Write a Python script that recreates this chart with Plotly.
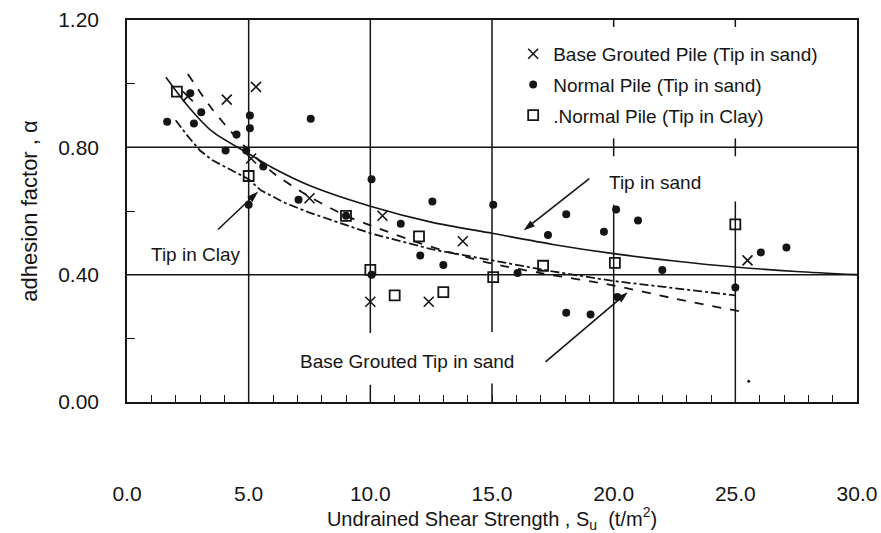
import plotly.graph_objects as go

# Measured points: adhesion factor vs undrained shear strength
grouted_sand_x = [2.5, 4.1, 5.3, 5.1, 7.5, 10.5, 13.8, 10.0, 12.4, 25.5]
grouted_sand_y = [0.96, 0.95, 0.99, 0.765, 0.64, 0.585, 0.505, 0.315, 0.315, 0.445]

normal_sand_x = [1.65, 2.6, 2.75, 3.05, 4.05, 4.5, 4.9, 5.05, 5.05, 5.6, 5.0,
                 7.55, 7.05, 9.0, 10.05, 11.25, 12.55, 12.05, 13.0, 10.05,
                 15.05, 16.05, 18.05, 17.3, 19.6, 20.1, 21.0, 22.0, 18.05,
                 19.05, 20.15, 26.05, 27.1, 25.0, 25.55]
normal_sand_y = [0.88, 0.97, 0.875, 0.91, 0.79, 0.84, 0.79, 0.90, 0.86, 0.74, 0.62,
                 0.89, 0.635, 0.585, 0.70, 0.56, 0.63, 0.46, 0.43, 0.40,
                 0.62, 0.405, 0.59, 0.525, 0.535, 0.605, 0.57, 0.415, 0.28,
                 0.275, 0.33, 0.47, 0.485, 0.36, 0.065]

normal_clay_x = [2.05, 5.0, 9.0, 10.0, 11.0, 12.0, 13.0, 15.05, 17.1, 20.05, 25.0]
normal_clay_y = [0.975, 0.71, 0.585, 0.415, 0.335, 0.52, 0.345, 0.392, 0.428, 0.437, 0.558]

# Trend curves
sand_curve_x = [1.6, 2.5, 3.5, 5.0, 6.0, 7.5, 10.0, 12.5, 15.0, 17.5, 20.0, 22.5, 25.0, 27.5, 30.0]
sand_curve_y = [1.02, 0.93, 0.85, 0.78, 0.735, 0.68, 0.615, 0.565, 0.53, 0.495, 0.466, 0.443, 0.424, 0.41, 0.40]

grouted_curve_x = [2.5, 3.5, 4.5, 5.0, 6.0, 7.5, 9.0, 10.0, 12.0, 13.5, 15.0, 17.0, 20.0, 22.5, 25.3]
grouted_curve_y = [1.03, 0.92, 0.83, 0.79, 0.72, 0.645, 0.585, 0.555, 0.50, 0.465, 0.435, 0.405, 0.366, 0.325, 0.283]

clay_curve_x = [2.0, 2.5, 3.0, 3.5, 4.0, 5.0, 5.5, 6.5, 7.5, 9.0, 10.0, 12.5, 15.0, 17.5, 20.0, 22.5, 25.0]
clay_curve_y = [0.885, 0.835, 0.79, 0.76, 0.74, 0.70, 0.665, 0.625, 0.595, 0.555, 0.53, 0.48, 0.445, 0.41, 0.38, 0.357, 0.335]

# Curve labels and their pointers (tail -> head)
label_text = ["Tip in sand", "Tip in Clay", "Base Grouted Tip in sand"]
label_x = [21.7, 2.84, 11.5]
label_y = [0.69, 0.463, 0.126]
pointer_tail_x = [19.0, 3.74, 17.2]
pointer_tail_y = [0.702, 0.542, 0.126]
pointer_head_x = [16.3, 5.39, 20.58]
pointer_head_y = [0.539, 0.661, 0.345]

# Axis ticks
x_tick_vals = [0, 5, 10, 15, 20, 25, 30]
x_tick_text = ["0.0", "5.0", "10.0", "15.0", "20.0", "25.0", "30.0"]
y_tick_vals = [0.0, 0.4, 0.8, 1.2]
y_tick_text = ["0.00", "0.40", "0.80", "1.20"]

# Grid: full horizontal rules, vertical rules as (x, y_from, y_to)
h_rules = [0.4, 0.8]
v_rules = [(5, 0.0, 1.2), (10, 0.217, 1.2), (15, 0.22, 1.2), (20, 0.0, 0.62), (25, 0.0, 0.63)]
short_marks = [(10, 0.0, 0.054), (15, 0.0, 0.058),
               (20, 1.178, 1.2), (25, 1.178, 1.2),
               (20, 0.772, 0.828), (25, 0.772, 0.828)]

INK = "#151515"
FONT = "Liberation Sans, Arial, sans-serif"

fig = go.Figure()

fig.add_trace(go.Scatter(x=sand_curve_x, y=sand_curve_y, mode="lines",
                         line=dict(color=INK, width=1.6, shape="spline", smoothing=0.8),
                         showlegend=False))
fig.add_trace(go.Scatter(x=grouted_curve_x, y=grouted_curve_y, mode="lines",
                         line=dict(color=INK, width=1.8, dash="dash", shape="spline", smoothing=0.8),
                         showlegend=False))
fig.add_trace(go.Scatter(x=clay_curve_x, y=clay_curve_y, mode="lines",
                         line=dict(color=INK, width=1.8, dash="dashdot"), showlegend=False))

# Pointer arrows: a two-point line ending in an arrowhead marker
for tx, ty, hx, hy in zip(pointer_tail_x, pointer_tail_y, pointer_head_x, pointer_head_y):
    fig.add_trace(go.Scatter(x=[tx, hx], y=[ty, hy], mode="lines+markers",
                             line=dict(color=INK, width=1.6),
                             marker=dict(symbol="arrow", size=[0, 12], angleref="previous",
                                         color=INK, opacity=1, line=dict(width=0)),
                             showlegend=False, hoverinfo="skip"))

sand_sizes = [8] * len(normal_sand_x)
sand_sizes[-1] = 3

fig.add_trace(go.Scatter(x=grouted_sand_x, y=grouted_sand_y, mode="markers",
                         name="Base Grouted Pile (Tip in sand)", legendgroup="a",
                         marker=dict(symbol="x-thin", size=10, line=dict(color=INK, width=1.6))))
fig.add_trace(go.Scatter(x=normal_sand_x, y=normal_sand_y, mode="markers",
                         name="Normal Pile (Tip in sand)", legendgroup="b",
                         marker=dict(symbol="circle", size=sand_sizes, color=INK, opacity=1,
                                     line=dict(width=0))))
fig.add_trace(go.Scatter(x=normal_clay_x, y=normal_clay_y, mode="markers",
                         name=".Normal Pile (Tip in Clay)", legendgroup="c",
                         marker=dict(symbol="square-open", size=10, color=INK, line=dict(width=1.8))))

shapes = []
for yv in h_rules:
    shapes.append(dict(type="line", xref="paper", yref="y", x0=0, x1=1, y0=yv, y1=yv,
                       line=dict(color=INK, width=1.5), layer="below"))
for xv, y0, y1 in v_rules + short_marks:
    shapes.append(dict(type="line", xref="x", yref="y", x0=xv, x1=xv, y0=y0, y1=y1,
                       line=dict(color=INK, width=1.5), layer="below"))

annotations = [dict(x=lx, y=ly, text=t, showarrow=False,
                    font=dict(family=FONT, size=19, color=INK))
               for t, lx, ly in zip(label_text, label_x, label_y)]

fig.update_layout(
    width=881, height=533,
    margin=dict(l=127, r=24, t=20, b=131),
    paper_bgcolor="white", plot_bgcolor="white",
    font=dict(family=FONT, color=INK),
    shapes=shapes, annotations=annotations,
    legend=dict(x=0.529, y=0.961, xanchor="left", yanchor="top",
                bgcolor="rgba(0,0,0,0)", font=dict(family=FONT, size=19, color=INK),
                tracegroupgap=3),
    xaxis=dict(range=[0, 30], showgrid=False, zeroline=False, automargin=False,
               showline=True, mirror=True, linecolor=INK, linewidth=1.6,
               tickvals=x_tick_vals, ticktext=x_tick_text,
               ticks="inside", ticklen=7, tickwidth=1.4, tickcolor=INK,
               minor=dict(dtick=1, ticks="inside", ticklen=7, tickwidth=1.4, tickcolor=INK),
               ticklabelstandoff=72,
               tickfont=dict(family=FONT, size=21, color=INK),
               title=dict(text="Undrained Shear Strength , S<sub>u</sub>  (t/m<sup>2</sup>)",
                          font=dict(family=FONT, size=20, color=INK), standoff=13)),
    yaxis=dict(range=[0, 1.2], showgrid=False, zeroline=False, automargin=False,
               showline=True, mirror=True, linecolor=INK, linewidth=1.6,
               tickvals=y_tick_vals, ticktext=y_tick_text,
               ticks="inside", ticklen=8, tickwidth=1.4, tickcolor=INK,
               minor=dict(dtick=0.2, ticks="inside", ticklen=8, tickwidth=1.4, tickcolor=INK),
               ticklabelstandoff=22,
               tickfont=dict(family=FONT, size=21, color=INK),
               title=dict(text="adhesion factor , α",
                          font=dict(family=FONT, size=22, color=INK), standoff=14)),
)

fig.write_html("out.html")
